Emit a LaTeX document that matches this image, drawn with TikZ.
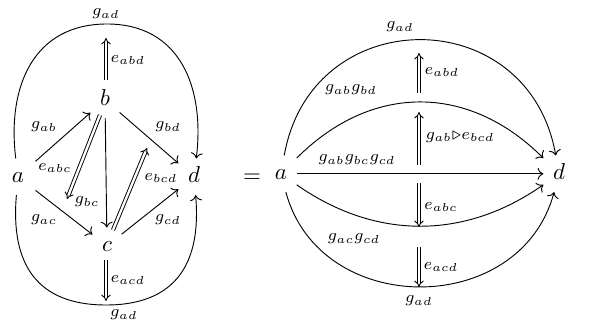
\documentclass[tikz,border=0pt]{standalone}
\usepackage{amsmath, amssymb}
\usetikzlibrary{arrows.meta}

\begin{document}
\begin{tikzpicture}[x=0.435pt, y=0.435pt, >={To},
    obj/.style={anchor=base, inner sep=4pt, text height=1.5ex, text depth=0.25ex},
    lbl/.style={font=\scriptsize, inner sep=0pt},
    cell/.style={double, double distance=1pt, -{Implies}}]
    % --- 1. Frame ---
    \useasboundingbox (0,0) rectangle (601,320);

    % --- 2. Left diagram (tetrahedron) ---
    \node[obj] (a) at (18,137) {$a$};
    \node[obj] (b) at (105,214) {$b$};
    \node[obj] (c) at (107,68) {$c$};
    \node[obj] (d) at (194,137) {$d$};
    \coordinate (topL) at (107,296);
    \coordinate (botL) at (106,15);

    \draw[->, shorten <=1pt] (a) -- (b);
    \draw[->] (b) -- (d);
    \draw[->, shorten <=1pt] (a) -- (c);
    \draw[->] (c) -- (d);
    \draw[->] (b) -- (c);
    % outer g_ad, drawn in two halves
    \draw[->] (a) to[out=97, in=180, looseness=1.15] (topL)
        to[out=0, in=83, looseness=1.15] (d);
    \draw[->] (a) to[out=-95, in=180, looseness=1.25] (botL)
        to[out=0, in=-85, looseness=1.25] (d);

    \node[lbl] (gadT) at (106,306) {$g_{ad}$};
    \node[lbl] (gadB) at (124,5) {$g_{ad}$};
    \node[lbl] (gab) at (44,193) {$g_{ab}$};
    \node[lbl] (gbd) at (168,193) {$g_{bd}$};
    \node[lbl] (gac) at (44,100) {$g_{ac}$};
    \node[lbl] (gcd) at (168,100) {$g_{cd}$};
    \node[lbl] (gbc) at (87,118) {$g_{bc}$};

    % 2-cells
    \coordinate (abdS) at (106,240);
    \coordinate (abdT) at (106,282);
    \coordinate (acdS) at (106,60);
    \coordinate (acdT) at (106,19);
    \coordinate (abcS) at (100,205);
    \coordinate (abcT) at (67,121);
    \coordinate (bcdS) at (113,90);
    \coordinate (bcdT) at (147,172);
    \draw[cell] (abdS) -- (abdT);
    \draw[cell] (acdS) -- (acdT);
    \draw[cell] (abcS) -- (abcT);
    \draw[cell] (bcdS) -- (bcdT);
    \node[lbl] (eabd) at (128,260) {$e_{abd}$};
    \node[lbl] (eacd) at (128,40) {$e_{acd}$};
    \node[lbl] (eabc) at (55,152) {$e_{abc}$};
    \node[lbl] (ebcd) at (161,142) {$e_{bcd}$};

    % --- 3. Equals sign ---
    \node[anchor=base] (eq) at (252,137) {$=$};

    % --- 4. Right diagram (composites) ---
    \node[obj] (aR) at (281,140) {$a$};
    \node[obj] (dR) at (559,140) {$d$};

    \draw[->] (aR) -- (dR);
    \draw[->] (aR) to[out=80, in=100, looseness=1.48] (dR);
    \draw[->] (aR) to[out=45, in=135, looseness=1.1] (dR);
    \draw[->] (aR) to[out=-35, in=-145, looseness=1.0] (dR);
    \draw[->] (aR) to[out=-75, in=-105, looseness=1.25] (dR);

    \node[lbl] (gadRT) at (400,293) {$g_{ad}$};
    \node[lbl] (gabbd) at (351,230) {$g_{ab}g_{bd}$};
    \node[lbl] (gabcd) at (357,160) {$g_{ab}g_{bc}g_{cd}$};
    \node[lbl] (gaccd) at (354,81) {$g_{ac}g_{cd}$};
    \node[lbl] (gadRB) at (419,19) {$g_{ad}$};

    % 2-cells
    \coordinate (abdRS) at (419,227);
    \coordinate (abdRT) at (419,267);
    \coordinate (whiskS) at (419,155);
    \coordinate (whiskT) at (419,208);
    \coordinate (abcRS) at (419,137);
    \coordinate (abcRT) at (419,93);
    \coordinate (acdRS) at (419,73);
    \coordinate (acdRT) at (419,33);
    \draw[cell] (abdRS) -- (abdRT);
    \draw[cell] (whiskS) -- (whiskT);
    \draw[cell] (abcRS) -- (abcRT);
    \draw[cell] (acdRS) -- (acdRT);
    \node[lbl] (eabdR) at (442,248) {$e_{abd}$};
    \node[lbl] (whisk) at (460,183) {$g_{ab}{\triangleright}e_{bcd}$};
    \node[lbl] (eabcR) at (441,113) {$e_{abc}$};
    \node[lbl] (eacdR) at (441,53) {$e_{acd}$};
\end{tikzpicture}
\end{document}
